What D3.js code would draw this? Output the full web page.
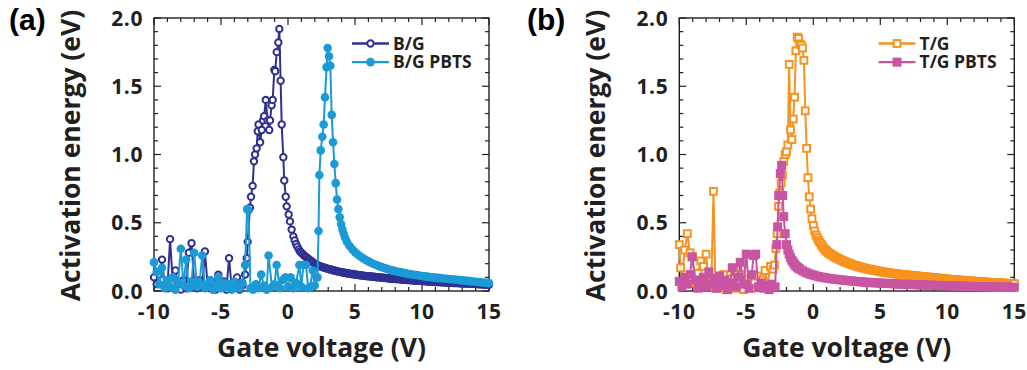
<!DOCTYPE html>
<html><head><meta charset="utf-8">
<script src="https://cdn.jsdelivr.net/npm/d3@7"></script>
<style>body{margin:0;background:#fff}svg{display:block}
.tick{font-family:'Open Sans',sans-serif;font-weight:700;}
</style>
</head><body>
<svg id="c" width="1027" height="370"></svg>
<script>
// ---------------- data (Gate voltage V, Activation energy eV) ----------------
const xTicks = [-10, -5, 0, 5, 10, 15];
const xTickLabels = ["-10", "-5", "0", "5", "10", "15"];
const yTicks = [0, 0.5, 1.0, 1.5, 2.0];
const yTickLabels = ["0.0", "0.5", "1.0", "1.5", "2.0"];
const seriesNames = ["B/G", "B/G PBTS", "T/G", "T/G PBTS"];

const bg = [
[-10.0,0.10],[-9.8,0.05],[-9.6,0.12],[-9.4,0.23],[-9.2,0.04],[-9.0,0.02],[-8.8,0.38],[-8.6,0.06],[-8.4,0.15],[-8.2,0.03],
[-8.0,0.01],[-7.8,0.08],[-7.6,0.02],[-7.4,0.28],[-7.2,0.35],[-7.0,0.05],[-6.8,0.02],[-6.6,0.08],[-6.4,0.03],[-6.2,0.29],
[-6.0,0.04],[-5.8,0.02],[-5.6,0.06],[-5.4,0.01],[-5.2,0.12],[-5.0,0.04],[-4.8,0.07],[-4.6,0.01],[-4.4,0.24],[-4.2,0.02],
[-4.0,0.05],[-3.8,0.10],[-3.6,0.01],[-3.4,0.04],[-3.2,0.12],
[-3.08,0.24],[-3.01,0.36],[-2.84,0.61],[-2.76,0.69],[-2.64,0.77],[-2.54,0.95],[-2.46,1.00],[-2.34,1.045],[-2.26,1.17],
[-2.2,1.22],[-2.08,1.09],[-1.96,1.18],[-1.86,1.25],[-1.78,1.28],[-1.66,1.40],[-1.52,1.25],[-1.4,1.18],[-1.34,1.25],
[-1.22,1.36],[-1.14,1.40],[-1.02,1.62],[-0.96,1.61],[-0.84,1.75],[-0.72,1.82],[-0.65,1.92],[-0.55,1.54],[-0.47,1.22],
[-0.35,0.98],[-0.28,0.81],[-0.17,0.69],[-0.1,0.62],[0.05,0.56],[0.15,0.51],[0.27,0.45],[0.4,0.40],[0.5,0.37],[0.6,0.345],
[0.7,0.325],[0.8,0.305],[0.9,0.29],
[1.0,0.280],[1.1,0.270],[1.2,0.260],[1.3,0.252],[1.4,0.245],[1.5,0.237],[1.6,0.230],[1.7,0.222],[1.8,0.215],[1.9,0.207],
[2.0,0.200],[2.1,0.195],[2.2,0.190],[2.3,0.186],[2.4,0.182],[2.5,0.178],[2.6,0.175],[2.7,0.171],[2.8,0.168],[2.9,0.165],
[3.0,0.162],[3.1,0.159],[3.2,0.157],[3.3,0.154],[3.4,0.152],[3.5,0.149],[3.6,0.147],[3.7,0.144],[3.8,0.142],[3.9,0.140],
[4.0,0.138],[4.1,0.136],[4.2,0.134],[4.3,0.132],[4.4,0.130],[4.5,0.128],[4.6,0.127],[4.7,0.125],[4.8,0.124],[4.9,0.122],
[5.0,0.121],[5.1,0.119],[5.2,0.118],[5.3,0.116],[5.4,0.115],[5.5,0.114],[5.6,0.113],[5.7,0.111],[5.8,0.110],[5.9,0.109],
[6.0,0.108],[6.1,0.107],[6.2,0.106],[6.3,0.105],[6.4,0.104],[6.5,0.103],[6.6,0.102],[6.7,0.101],[6.8,0.100],[6.9,0.099],
[7.0,0.098],[7.1,0.097],[7.2,0.096],[7.3,0.095],[7.4,0.094],[7.5,0.093],[7.6,0.092],[7.7,0.091],[7.8,0.090],[7.9,0.089],
[8.0,0.088],[8.1,0.088],[8.2,0.087],[8.3,0.086],[8.4,0.085],[8.5,0.084],[8.6,0.083],[8.7,0.083],[8.8,0.082],[8.9,0.081],
[9.0,0.080],[9.1,0.080],[9.2,0.079],[9.3,0.078],[9.4,0.077],[9.5,0.077],[9.6,0.076],[9.7,0.075],[9.8,0.074],[9.9,0.074],
[10.0,0.073],[10.1,0.073],[10.2,0.072],[10.3,0.071],[10.4,0.070],[10.5,0.070],[10.6,0.069],[10.7,0.069],[10.8,0.068],[10.9,0.067],
[11.0,0.066],[11.1,0.066],[11.2,0.065],[11.3,0.065],[11.4,0.064],[11.5,0.064],[11.6,0.063],[11.7,0.063],[11.8,0.062],[11.9,0.062],
[12.0,0.061],[12.1,0.061],[12.2,0.060],[12.3,0.060],[12.4,0.059],[12.5,0.059],[12.6,0.058],[12.7,0.058],[12.8,0.057],[12.9,0.057],
[13.0,0.056],[13.1,0.056],[13.2,0.055],[13.3,0.055],[13.4,0.054],[13.5,0.054],[13.6,0.053],[13.7,0.053],[13.8,0.052],[13.9,0.052],
[14.0,0.051],[14.1,0.051],[14.2,0.050],[14.3,0.050],[14.4,0.049],[14.5,0.049],[14.6,0.048],[14.7,0.048],[14.8,0.047],[14.9,0.047],
[15.0,0.046]
];

const bgPbts = [
[-10.0,0.21],[-9.8,0.14],[-9.6,0.05],[-9.4,0.17],[-9.2,0.02],[-9.0,0.08],[-8.8,0.03],[-8.6,0.10],[-8.4,0.01],[-8.2,0.06],
[-8.0,0.31],[-7.8,0.04],[-7.6,0.23],[-7.4,0.02],[-7.2,0.07],[-7.0,0.28],[-6.8,0.03],[-6.6,0.06],[-6.4,0.26],[-6.2,0.02],
[-6.0,0.05],[-5.8,0.08],[-5.6,0.01],[-5.4,0.04],[-5.2,0.10],[-5.0,0.02],[-4.8,0.06],[-4.6,0.03],[-4.4,0.05],[-4.2,0.01],
[-4.0,0.07],[-3.8,0.03],[-3.6,0.02],[-3.4,0.06],[-3.2,0.19],[-3.05,0.60],[-2.95,0.59],[-2.8,0.02],[-2.6,0.01],[-2.4,0.05],
[-2.2,0.02],[-2.0,0.12],[-1.8,0.04],[-1.6,0.01],[-1.45,0.26],[-1.2,0.03],[-1.0,0.05],[-0.85,0.19],[-0.6,0.02],[-0.4,0.08],
[-0.2,0.10],[0.0,0.03],[0.2,0.10],[0.4,0.02],[0.6,0.06],[0.85,0.19],[1.0,0.03],[1.15,0.19],[1.35,0.19],[1.5,0.02],
[1.65,0.03],[1.85,0.15],[2.0,0.04],[2.2,0.10],
[2.28,0.44],[2.34,0.85],[2.44,1.03],[2.56,1.13],[2.66,1.22],[2.76,1.42],[2.88,1.64],[2.96,1.78],[3.06,1.72],[3.16,1.65],
[3.26,1.29],[3.36,1.09],[3.46,0.93],[3.56,0.79],[3.66,0.67],[3.76,0.60],[3.86,0.54],[3.96,0.49],[4.06,0.45],[4.16,0.42],
[4.26,0.39],
[4.4,0.36],[4.6,0.33],[4.8,0.305],[5.0,0.285],[5.2,0.268],[5.4,0.253],[5.6,0.240],[5.8,0.228],[6.0,0.217],[6.2,0.207],
[6.4,0.198],[6.6,0.190],[6.8,0.182],[7.0,0.175],[7.2,0.168],[7.4,0.162],[7.6,0.156],[7.8,0.151],[8.0,0.146],[8.2,0.141],
[8.4,0.137],[8.6,0.133],[8.8,0.129],[9.0,0.125],[9.2,0.122],[9.4,0.119],[9.6,0.116],[9.8,0.113],[10.0,0.110],[10.2,0.107],
[10.4,0.105],[10.6,0.102],[10.8,0.100],[11.0,0.098],[11.2,0.096],[11.4,0.094],[11.6,0.092],[11.8,0.090],[12.0,0.088],[12.2,0.086],
[12.4,0.084],[12.6,0.082],[12.8,0.080],[13.0,0.078],[13.2,0.076],[13.4,0.074],[13.6,0.072],[13.8,0.070],[14.0,0.068],[14.2,0.066],
[14.4,0.064],[14.6,0.062],[14.8,0.060],[15.0,0.058]
];

const tg = [
[-10.0,0.34],[-9.9,0.17],[-9.8,0.07],[-9.6,0.30],[-9.4,0.42],[-9.2,0.28],[-9.0,0.25],[-8.8,0.06],[-8.6,0.13],[-8.4,0.22],
[-8.2,0.18],[-8.0,0.27],[-7.8,0.04],[-7.6,0.10],[-7.45,0.73],[-7.3,0.02],[-7.1,0.10],[-6.9,0.03],[-6.7,0.12],[-6.5,0.01],
[-6.3,0.06],[-6.1,0.09],[-5.95,0.17],[-5.8,0.02],[-5.6,0.07],[-5.4,0.12],[-5.2,0.01],[-5.0,0.05],[-4.8,0.09],[-4.6,0.02],
[-4.4,0.06],[-4.2,0.11],[-4.0,0.03],[-3.8,0.08],[-3.6,0.15],[-3.4,0.05],[-3.2,0.18],[-3.0,0.16],[-2.9,0.19],[-2.8,0.31],
[-2.7,0.42],[-2.6,0.62],[-2.5,0.72],[-2.4,0.79],[-2.3,0.85],[-2.2,0.95],[-2.1,1.00],[-2.0,1.02],[-1.9,1.07],[-1.8,1.66],
[-1.7,1.18],[-1.6,1.11],[-1.5,1.26],[-1.4,1.42],[-1.3,1.76],[-1.2,1.86],[-1.1,1.85],[-1.0,1.81],[-0.9,1.80],[-0.8,1.78],
[-0.7,1.69],[-0.6,1.32],[-0.5,1.045],[-0.4,0.83],[-0.3,0.69],[-0.2,0.60],[-0.1,0.53],[0.0,0.48],[0.1,0.44],[0.2,0.41],
[0.3,0.39],[0.4,0.37],[0.5,0.355],[0.6,0.34],[0.7,0.325],[0.8,0.31],[0.9,0.30],
[1.0,0.290],[1.1,0.282],[1.2,0.275],[1.3,0.268],[1.4,0.262],[1.5,0.256],[1.6,0.250],[1.7,0.245],[1.8,0.240],[1.9,0.235],
[2.0,0.230],[2.1,0.225],[2.2,0.221],[2.3,0.217],[2.4,0.213],[2.5,0.209],[2.6,0.205],[2.7,0.201],[2.8,0.197],[2.9,0.193],
[3.0,0.190],[3.1,0.187],[3.2,0.184],[3.3,0.181],[3.4,0.178],[3.5,0.175],[3.6,0.173],[3.7,0.170],[3.8,0.168],[3.9,0.165],
[4.0,0.163],[4.1,0.161],[4.2,0.159],[4.3,0.157],[4.4,0.155],[4.5,0.153],[4.6,0.151],[4.7,0.149],[4.8,0.147],[4.9,0.145],
[5.0,0.143],[5.1,0.141],[5.2,0.140],[5.3,0.138],[5.4,0.137],[5.5,0.135],[5.6,0.134],[5.7,0.132],[5.8,0.131],[5.9,0.129],
[6.0,0.128],[6.1,0.126],[6.2,0.125],[6.3,0.124],[6.4,0.123],[6.5,0.122],[6.6,0.121],[6.7,0.120],[6.8,0.119],[6.9,0.118],
[7.0,0.117],[7.1,0.116],[7.2,0.115],[7.3,0.114],[7.4,0.113],[7.5,0.112],[7.6,0.111],[7.7,0.110],[7.8,0.109],[7.9,0.108],
[8.0,0.107],[8.1,0.106],[8.2,0.105],[8.3,0.104],[8.4,0.103],[8.5,0.102],[8.6,0.101],[8.7,0.100],[8.8,0.099],[8.9,0.098],
[9.0,0.097],[9.1,0.096],[9.2,0.095],[9.3,0.094],[9.4,0.093],[9.5,0.092],[9.6,0.091],[9.7,0.090],[9.8,0.089],[9.9,0.088],
[10.0,0.087],[10.1,0.086],[10.2,0.085],[10.3,0.085],[10.4,0.084],[10.5,0.083],[10.6,0.082],[10.7,0.081],[10.8,0.080],[10.9,0.080],
[11.0,0.079],[11.1,0.078],[11.2,0.077],[11.3,0.077],[11.4,0.076],[11.5,0.075],[11.6,0.074],[11.7,0.074],[11.8,0.073],[11.9,0.072],
[12.0,0.071],[12.1,0.071],[12.2,0.070],[12.3,0.069],[12.4,0.068],[12.5,0.068],[12.6,0.067],[12.7,0.066],[12.8,0.066],[12.9,0.065],
[13.0,0.064],[13.1,0.064],[13.2,0.063],[13.3,0.063],[13.4,0.062],[13.5,0.061],[13.6,0.061],[13.7,0.060],[13.8,0.059],[13.9,0.059],
[14.0,0.058],[14.1,0.058],[14.2,0.057],[14.3,0.057],[14.4,0.056],[14.5,0.056],[14.6,0.055],[14.7,0.055],[14.8,0.054],[14.9,0.054],
[15.0,0.053]
];

const tgPbts = [
[-10.0,0.07],[-9.8,0.03],[-9.6,0.10],[-9.4,0.05],[-9.2,0.12],[-9.05,0.25],[-8.8,0.08],[-8.6,0.02],[-8.4,0.06],[-8.2,0.10],
[-8.0,0.03],[-7.8,0.14],[-7.6,0.05],[-7.4,0.09],[-7.2,0.02],[-7.0,0.11],[-6.8,0.04],[-6.6,0.08],[-6.4,0.01],[-6.2,0.06],
[-6.05,0.17],[-5.8,0.03],[-5.6,0.10],[-5.45,0.21],[-5.2,0.05],[-5.0,0.27],[-4.8,0.02],[-4.6,0.12],[-4.45,0.26],[-4.3,0.27],
[-4.1,0.03],[-3.9,0.06],[-3.7,0.02],[-3.5,0.04],[-3.3,0.01],[-3.1,0.05],[-2.85,0.03],
[-2.72,0.34],[-2.66,0.47],[-2.58,0.70],[-2.46,0.86],[-2.36,0.92],[-2.28,0.70],[-2.21,0.545],[-2.1,0.42],[-2.0,0.34],
[-1.9,0.30],[-1.8,0.27],[-1.7,0.245],[-1.6,0.225],[-1.5,0.21],[-1.4,0.195],[-1.3,0.185],[-1.2,0.175],[-1.1,0.167],[-1.0,0.16],
[-0.8,0.148],[-0.6,0.138],[-0.4,0.130],[-0.2,0.123],[0.0,0.117],[0.2,0.111],[0.4,0.106],[0.6,0.102],[0.8,0.098],[1.0,0.095],
[1.2,0.092],[1.4,0.089],[1.6,0.087],[1.8,0.084],[2.0,0.082],[2.2,0.080],[2.4,0.078],[2.6,0.076],[2.8,0.074],[3.0,0.072],
[3.2,0.070],[3.4,0.068],[3.6,0.067],[3.8,0.065],[4.0,0.064],[4.2,0.063],[4.4,0.061],[4.6,0.060],[4.8,0.059],[5.0,0.058],
[5.2,0.057],[5.4,0.056],[5.6,0.055],[5.8,0.054],[6.0,0.053],[6.2,0.052],[6.4,0.051],[6.6,0.050],[6.8,0.049],[7.0,0.049],
[7.2,0.048],[7.4,0.047],[7.6,0.046],[7.8,0.046],[8.0,0.045],[8.2,0.044],[8.4,0.044],[8.6,0.043],[8.8,0.042],[9.0,0.042],
[9.2,0.041],[9.4,0.040],[9.6,0.040],[9.8,0.039],[10.0,0.039],[10.2,0.038],[10.4,0.037],[10.6,0.037],[10.8,0.036],[11.0,0.036],
[11.2,0.035],[11.4,0.035],[11.6,0.034],[11.8,0.034],[12.0,0.033],[12.2,0.033],[12.4,0.032],[12.6,0.032],[12.8,0.031],[13.0,0.031],
[13.2,0.030],[13.4,0.030],[13.6,0.030],[13.8,0.029],[14.0,0.029],[14.2,0.028],[14.4,0.028],[14.6,0.028],[14.8,0.027],[15.0,0.027]
];

// ---------------- drawing ----------------
const svg = d3.select("#c");
const C = { bg: "#2e3192", bgP: "#1b9ad6", tg: "#f7931e", tgP: "#c955a2", ax: "#231f20" };
const titleFont = "'Open Sans', sans-serif";

function panel(ox, label, labelX, s1, s2, legendX, kind) {
  const x0 = ox, x1 = ox + 335, y0 = 18, y1 = 291;
  const x = d3.scaleLinear().domain([-10, 15]).range([x0, x1]);
  const y = d3.scaleLinear().domain([0, 2]).range([y1, y0]);
  const g = svg.append("g");

  const minorX = d3.range(-10, 15.001, 1), minorY = d3.range(0, 20.001, 1);
  const tk = g.append("g").attr("stroke", C.ax).attr("stroke-width", 1.2);
  minorX.forEach(v => {
    const L = (Math.abs(v % 5) < 1e-9) ? 7 : 4;
    tk.append("line").attr("x1", x(v)).attr("x2", x(v)).attr("y1", y1).attr("y2", y1 - L);
    tk.append("line").attr("x1", x(v)).attr("x2", x(v)).attr("y1", y0).attr("y2", y0 + L);
  });
  minorY.forEach(k => {
    const v = k / 10, L = (k % 5 === 0) ? 7 : 4;
    tk.append("line").attr("y1", y(v)).attr("y2", y(v)).attr("x1", x0).attr("x2", x0 + L);
    tk.append("line").attr("y1", y(v)).attr("y2", y(v)).attr("x1", x1).attr("x2", x1 - L);
  });
  g.append("rect").attr("x", x0).attr("y", y0).attr("width", x1 - x0).attr("height", y1 - y0)
    .attr("fill", "none").attr("stroke", C.ax).attr("stroke-width", 1.4);

  xTicks.forEach((v, i) => g.append("text").attr("class", "tick").attr("x", x(v)).attr("y", 319).attr("text-anchor", "middle")
    .attr("font-size", 21).attr("letter-spacing", 0.6).attr("fill", C.ax).text(xTickLabels[i]));
  yTicks.forEach((v, i) => g.append("text").attr("class", "tick").attr("x", x0 - 11).attr("y", y(v)).attr("dy", "0.36em").attr("text-anchor", "end")
    .attr("font-size", 21).attr("letter-spacing", 0.6).attr("fill", C.ax).text(yTickLabels[i]));

  g.append("text").attr("transform", `translate(${x0 - 74},${(y0 + y1) / 2 + 1}) rotate(-90)`).attr("text-anchor", "middle")
    .attr("font-family", titleFont).attr("font-weight", "bold").attr("font-size", 26.5).attr("fill", C.ax).text("Activation energy (eV)");
  g.append("text").attr("x", (x0 + x1) / 2).attr("y", 357).attr("text-anchor", "middle")
    .attr("font-family", titleFont).attr("font-weight", "bold").attr("font-size", 26.5).attr("fill", C.ax).text("Gate voltage (V)");
  g.append("text").attr("x", labelX).attr("y", 30).attr("font-family", "'Liberation Sans', Arial, sans-serif")
    .attr("font-weight", "bold").attr("font-size", 30).attr("fill", "#000").text(label);

  const line = d3.line().x(d => x(d[0])).y(d => y(d[1]));
  function mk(sel, col, shape, open) {
    if (shape === "circle") {
      sel.append("circle").attr("cx", d => x(d[0])).attr("cy", d => y(d[1])).attr("r", open ? 3.2 : 4.3)
        .attr("fill", open ? "#fff" : col).attr("stroke", open ? col : "none").attr("stroke-width", 2);
    } else {
      const s = open ? 6.8 : 9;
      sel.append("rect").attr("x", d => x(d[0]) - s / 2).attr("y", d => y(d[1]) - s / 2).attr("width", s).attr("height", s)
        .attr("fill", open ? "#fff" : col).attr("stroke", open ? col : "none").attr("stroke-width", 2);
    }
  }
  function draw(data, col, shape, open, name, row) {
    g.append("path").datum(data).attr("d", line).attr("fill", "none").attr("stroke", col).attr("stroke-width", 2);
    g.append("g").selectAll("g").data(data).join("g").call(s => mk(s, col, shape, open));
    const ly = 43.5 + row * 18.6;
    const lg = g.append("g");
    lg.append("line").attr("x1", legendX).attr("x2", legendX + 37).attr("y1", ly).attr("y2", ly)
      .attr("stroke", col).attr("stroke-width", 2.4);
    lg.append("g").data([[x.invert(legendX + 18.5), y.invert(ly)]]).call(s => mk(s, col, shape, open));
    lg.append("text").attr("x", legendX + 41).attr("y", ly).attr("dy", "0.35em")
      .attr("font-family", titleFont).attr("font-weight", "bold").attr("font-size", 17.5).attr("fill", C.ax).text(name);
  }
  if (kind === "a") {
    draw(s1, C.bg, "circle", true, seriesNames[0], 0);
    draw(s2, C.bgP, "circle", false, seriesNames[1], 1);
  } else {
    draw(s1, C.tg, "rect", true, seriesNames[2], 0);
    draw(s2, C.tgP, "rect", false, seriesNames[3], 1);
  }
}
panel(154, "(a)", 9, bg, bgPbts, 352, "a");
panel(679.3, "(b)", 527, tg, tgPbts, 878.5, "b");
</script>
</body></html>
